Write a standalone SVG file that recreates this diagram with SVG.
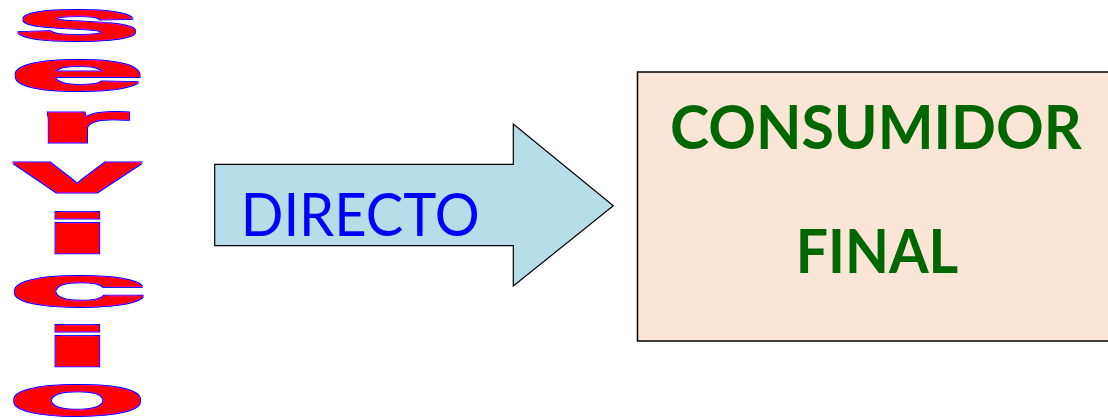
<svg xmlns="http://www.w3.org/2000/svg" width="1108" height="418" viewBox="0 0 1108 418">
<defs>
<filter id="outline" x="-5%" y="-5%" width="110%" height="110%">
<feMorphology in="SourceAlpha" operator="dilate" radius="1.4" result="d"/>
<feFlood flood-color="#0000ff" result="b"/>
<feComposite in="b" in2="d" operator="in" result="o"/>
<feMerge><feMergeNode in="o"/><feMergeNode in="SourceGraphic"/></feMerge>
</filter>
</defs>
<style>
.wa{font-family:"Liberation Sans",Arial,sans-serif;font-weight:700;font-size:56px;fill:#ff0000;stroke:#ff0000;stroke-width:2.6;stroke-linejoin:miter;text-anchor:middle;vector-effect:non-scaling-stroke}
.cons{font-family:Lato,"Open Sans",sans-serif;font-weight:700;font-size:61px;fill:#006600}
</style>
<rect width="1108" height="418" fill="#ffffff"/>
<g id="servicio" filter="url(#outline)">
<text class="wa" transform="translate(77.5,40) scale(4.2,1)">s</text>
<text class="wa" transform="translate(77,90) scale(4.45,1)">e</text>
<text class="wa" transform="translate(82,142) scale(4.5,1)">r</text>
<text class="wa" transform="translate(77.5,192) scale(4.05,1)">v</text>
<text class="wa" transform="translate(77.5,253) scale(5.2,1)">i</text>
<text class="wa" transform="translate(77.5,306) scale(4.55,1)">c</text>
<text class="wa" transform="translate(77.5,366) scale(5.2,1)">i</text>
<text class="wa" transform="translate(77,415) scale(4.1,1)">o</text>
</g>
<g id="connectors">
<g id="directo-arrow">
<polygon points="214.7,164.3 513.3,164.3 513.3,124 613.3,205.7 513.3,286 513.3,245.7 214.7,245.7" fill="#b7dde8" stroke="#000000" stroke-width="1.2"/>
<text x="240.7" y="236" font-family="Lato,'Open Sans',sans-serif" font-size="60" fill="#0000ff" textLength="239" lengthAdjust="spacingAndGlyphs">DIRECTO</text>
</g>
</g>
<g id="consumidor-final">
<rect x="637.5" y="72" width="480" height="269" fill="#fbe5d6" stroke="#000000" stroke-width="1.5"/>
<text class="cons" x="670" y="149.3" textLength="411.7" lengthAdjust="spacingAndGlyphs">CONSUMIDOR</text>
<text class="cons" x="795.7" y="272.7" textLength="162.6" lengthAdjust="spacingAndGlyphs">FINAL</text>
</g>
</svg>
